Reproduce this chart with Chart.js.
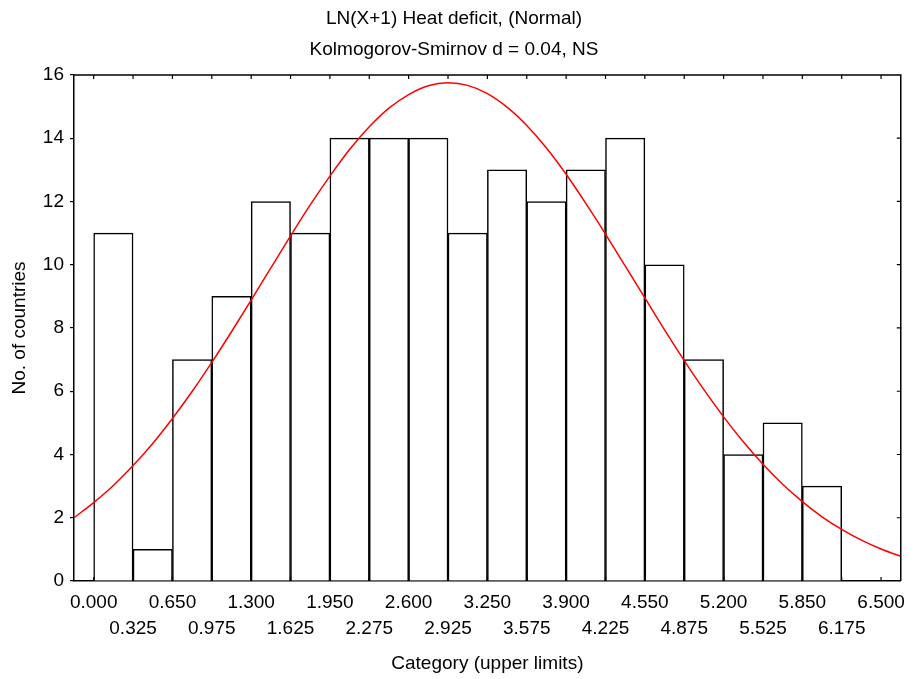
<!DOCTYPE html>
<html lang="en">
<head>
  <meta charset="UTF-8">
  <title>LN(X+1) Heat deficit, (Normal)</title>
  <script src="https://cdn.jsdelivr.net/npm/chart.js"></script>
  <style>
    body {
      margin: 0;
      padding: 0;
      background: #fff;
    }
    #wrap {
      width: 914px;
      height: 679px;
    }
  </style>
</head>
<body>

<div id="wrap"><canvas id="hist"></canvas></div>

<script>
  // category upper limits (bin edges, width 0.325)
  const binEdges = [0.000, 0.325, 0.650, 0.975, 1.300, 1.625, 1.950, 2.275, 2.600, 2.925, 3.250,
                    3.575, 3.900, 4.225, 4.550, 4.875, 5.200, 5.525, 5.850, 6.175, 6.500];
  // No. of countries per bin
  const counts = [11, 1, 7, 9, 12, 11, 14, 14, 14, 11, 13, 12, 13, 14, 10, 7, 4, 5, 3];

  // fitted normal curve
  const curveX = [-0.1625, 0.000, 0.1625, 0.325, 0.4875, 0.650, 0.8125, 0.975, 1.1375, 1.300, 1.4625,
                  1.625, 1.7875, 1.950, 2.1125, 2.275, 2.4375, 2.600, 2.7625, 2.925, 3.0875,
                  3.250, 3.4125, 3.575, 3.7375, 3.900, 4.0625, 4.225, 4.3875, 4.550, 4.7125,
                  4.875, 5.0375, 5.200, 5.3625, 5.525, 5.6875, 5.850, 6.0125, 6.175, 6.3375,
                  6.500, 6.6625];
  const curveY = [2.00, 2.48, 3.02, 3.65, 4.35, 5.14, 5.99, 6.91, 7.88, 8.88, 9.90,
                  10.91, 11.89, 12.80, 13.64, 14.36, 14.95, 15.38, 15.66, 15.75, 15.67,
                  15.41, 14.98, 14.40, 13.69, 12.86, 11.94, 10.97, 9.96, 8.95, 7.94,
                  6.97, 6.05, 5.19, 4.40, 3.69, 3.06, 2.51, 2.03, 1.63, 1.29,
                  1.01, 0.78];

  const yMin = 0, yMax = 16, yStep = 2;
  const xMin = -0.1625, xMax = 6.6625;

  Chart.defaults.font.family = "'Liberation Sans', Arial, sans-serif";
  Chart.defaults.color = '#000';

  const barData = counts.map((c, i) => ({ x: (binEdges[i] + binEdges[i + 1]) / 2, y: c }));
  const lineData = curveX.map((x, i) => ({ x: x, y: curveY[i] }));

  // top/right frame plus the small inward ticks
  const framePlugin = {
    id: 'frame',
    afterDraw(chart) {
      const { ctx, chartArea: a, scales } = chart;
      ctx.save();
      ctx.strokeStyle = '#000';
      ctx.lineWidth = 1.5;
      ctx.beginPath();
      ctx.moveTo(a.left, a.top);
      ctx.lineTo(a.right, a.top);
      ctx.lineTo(a.right, a.bottom);
      ctx.stroke();

      ctx.lineWidth = 1.2;
      ctx.beginPath();
      binEdges.forEach(v => {
        const px = scales.x.getPixelForValue(v);
        ctx.moveTo(px, a.top);
        ctx.lineTo(px, a.top + 4);
        ctx.moveTo(px, a.bottom);
        ctx.lineTo(px, a.bottom - 4);
      });
      for (let v = yMin + yStep; v < yMax; v += yStep) {
        const py = scales.y.getPixelForValue(v);
        ctx.moveTo(a.right, py);
        ctx.lineTo(a.right - 4, py);
      }
      ctx.stroke();
      ctx.restore();
    }
  };

  new Chart(document.getElementById('hist'), {
    type: 'bar',
    data: {
      datasets: [
        {
          type: 'line',
          data: lineData,
          borderColor: '#ff0000',
          borderWidth: 1.5,
          pointRadius: 0,
          fill: false,
          cubicInterpolationMode: 'monotone',
          order: 0
        },
        {
          type: 'bar',
          data: barData,
          backgroundColor: '#fff',
          borderColor: '#000',
          borderWidth: 1.5,
          barPercentage: 1,
          categoryPercentage: 1,
          order: 1
        }
      ]
    },
    options: {
      responsive: true,
      maintainAspectRatio: false,
      animation: false,
      layout: {
        padding: { top: 0, right: 6, left: 0, bottom: 0 }
      },
      plugins: {
        legend: { display: false },
        tooltip: { enabled: false },
        title: {
          display: true,
          text: ['LN(X+1) Heat deficit, (Normal)', 'Kolmogorov-Smirnov d = 0.04, NS'],
          font: { size: 19, weight: 'normal', lineHeight: 1.63 },
          color: '#000',
          padding: { top: 3, bottom: 10 }
        }
      },
      scales: {
        x: {
          type: 'linear',
          offset: false,
          min: xMin,
          max: xMax,
          afterBuildTicks: scale => {
            scale.ticks = binEdges.map(v => ({ value: v }));
          },
          afterFit: scale => {
            scale.height = 98;
          },
          ticks: {
            autoSkip: false,
            maxRotation: 0,
            padding: 9,
            font: { size: 19, lineHeight: 1.37 },
            callback: (value, index) => {
              const label = binEdges[index].toFixed(3);
              return index % 2 === 0 ? [label, ''] : ['', label];
            }
          },
          grid: { offset: false, drawOnChartArea: false, drawTicks: false },
          border: { display: true, color: '#000', width: 1.5 },
          title: {
            display: true,
            text: 'Category (upper limits)',
            font: { size: 19 },
            padding: { top: 0, bottom: 4 }
          }
        },
        y: {
          min: yMin,
          max: yMax,
          afterFit: scale => {
            scale.width = 74;
          },
          ticks: {
            stepSize: yStep,
            padding: 6,
            font: { size: 19 }
          },
          grid: { drawOnChartArea: false, drawTicks: true, tickLength: 4, color: '#000', lineWidth: 1.2 },
          border: { display: true, color: '#000', width: 1.5 },
          title: {
            display: true,
            text: 'No. of countries',
            font: { size: 19 },
            padding: { top: 8, bottom: 0 }
          }
        }
      }
    },
    plugins: [framePlugin]
  });
</script>

</body>
</html>
